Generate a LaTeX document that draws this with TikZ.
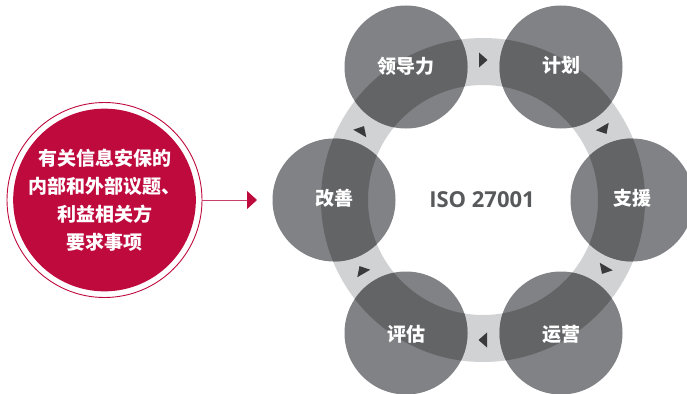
\documentclass[tikz,border=0pt]{standalone}
\usepackage{fontspec}
\newfontfamily\cjk{Noto Sans CJK SC}
\newfontfamily\osans{Open Sans}
\usetikzlibrary{arrows.meta}
\definecolor{ringc}{HTML}{D1D2D4}
\definecolor{circc}{HTML}{808285}
\definecolor{darkc}{HTML}{636466}
\definecolor{tric}{HTML}{3A3A3C}
\definecolor{isoc}{HTML}{58595B}
\definecolor{crim}{HTML}{BE0A3D}
\definecolor{arrc}{HTML}{C8406A}
\tikzset{
  stage/.style={circle, fill=circc, minimum size=123pt, inner sep=0pt},
  stagelabel/.style={text=white, font=\cjk\bfseries\fontsize{19}{22}\selectfont, inner sep=0pt},
  ringfill/.style={fill=ringc, even odd rule},
  overlap/.style={fill=darkc, even odd rule},
  tri/.style={fill=tric},
}
\begin{document}
\begin{tikzpicture}[x=1pt,y=-1pt]
\useasboundingbox (0,0) rectangle (687,393);
% ring
\coordinate (ctr) at (483,200);
\fill[ringfill] (ctr) circle (162) (ctr) circle (115);
% stage circles
\foreach \n/\x/\y in {c1/406/67, c2/561/67, c3/632/200, c4/561/333, c5/406/333, c6/334/200}{
  \node[stage] (\n) at (\x,\y) {};
  \begin{scope}
    \clip (\x,\y) circle (61.5);
    \fill[overlap] (ctr) circle (162) (ctr) circle (115);
  \end{scope}
}
% labels
\node[stagelabel] (l1) at ([yshift=1]c1) {领导力};
\node[stagelabel] (l2) at ([yshift=2]c2) {计划};
\node[stagelabel] (l3) at ([yshift=2]c3) {支援};
\node[stagelabel] (l4) at ([yshift=-1]c4) {运营};
\node[stagelabel] (l5) at ([yshift=-1]c5) {评估};
\node[stagelabel] (l6) at ([yshift=2]c6) {改善};
% direction triangles (clockwise)
\foreach \t in {90,30,-30,-90,-150,150}{
  \fill[tri]
    ({483+140*cos(\t)+4.5*sin(\t)}, {200-140*sin(\t)+4.5*cos(\t)}) --
    ({483+140*cos(\t)-4*sin(\t)+7.5*cos(\t)}, {200-140*sin(\t)-4*cos(\t)-7.5*sin(\t)}) --
    ({483+140*cos(\t)-4*sin(\t)-7.5*cos(\t)}, {200-140*sin(\t)-4*cos(\t)+7.5*sin(\t)}) -- cycle;
}
% centre text
\node[text=isoc, font=\osans\bfseries\fontsize{22}{24}\selectfont, inner sep=0pt] (iso) at (482,200) {ISO 27001};
% requirements circle
\node[circle, draw=crim, line width=0.9pt, minimum size=195pt, inner sep=0pt] (reqout) at (104.5,200) {};
\node[circle, fill=crim, minimum size=177pt, inner sep=0pt, text=white, align=center,
      font=\cjk\bfseries\fontsize{19}{28}\selectfont] (req) at (104.5,200)
      {有关信息安保的\\内部和外部议题、\\利益相关方\\要求事项};
\coordinate (tip) at (257,200);
\draw[arrc, line width=1pt, -{Triangle[length=10pt,width=18pt,color=crim]}] (reqout.east) -- (tip);
\end{tikzpicture}
\end{document}
